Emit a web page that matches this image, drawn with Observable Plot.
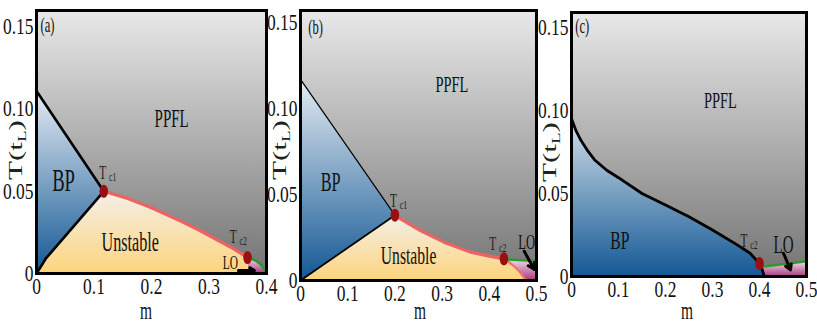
<!DOCTYPE html>
<html><head><meta charset="utf-8">
<script src="https://cdn.jsdelivr.net/npm/d3@7"></script>
<script src="https://cdn.jsdelivr.net/npm/@observablehq/plot@0.6"></script>
<style>
html,body{margin:0;padding:0;background:#fff;}
#wrap{position:relative;width:817px;height:328px;overflow:hidden;background:#fff;}
#wrap svg{position:absolute;top:0;overflow:visible;}
</style></head><body><div id="wrap"></div>
<script>
// ---------------- shared ticks ----------------
const yTicks = [0, 0.05, 0.10, 0.15];
const yTickLabels = ["0", "0.05", "0.10", "0.15"];

// ---------------- panel (a) ----------------
const aXTicks = [0, 0.1, 0.2, 0.3, 0.4];
const aXTickLabels = ["0", "0.1", "0.2", "0.3", "0.4"];
const aBPUpperM = [0, 0.117];
const aBPUpperT = [0.111, 0.050];
const aBPLowerM = [0, 0.016, 0.117];
const aBPLowerT = [0, 0.009, 0.050];
const aRedM = [0.117, 0.16, 0.2, 0.25, 0.285, 0.343, 0.367];
const aRedT = [0.050, 0.0455, 0.040, 0.032, 0.026, 0.015, 0.0097];
const aEdgeM = [0.367, 0.370];
const aEdgeT = [0.0097, 0];
const aGreenM = [0.367, 0.375, 0.383, 0.390, 0.395, 0.4];
const aGreenT = [0.0097, 0.0088, 0.0075, 0.0055, 0.0032, 0];
const aTcNames = ["c1", "c2"];
const aTcM = [0.117, 0.367];
const aTcT = [0.050, 0.0097];
const aTcLabelM = [0.115, 0.342];
const aTcLabelT = [0.061, 0.0225];
const aArrowM = [0.351, 0.379];
const aArrowT = [0.0018, 0.0018];
const aLabels = ["(a)", "PPFL", "BP", "Unstable", "LO"];
const aLabelM = [0.019, 0.235, 0.047, 0.163, 0.337];
const aLabelT = [0.151, 0.094, 0.056, 0.019, 0.0063];

// ---------------- panel (b) ----------------
const bXTicks = [0, 0.1, 0.2, 0.3, 0.4, 0.5];
const bXTickLabels = ["0", "0.1", "0.2", "0.3", "0.4", "0.5"];
const bBPUpperM = [0, 0.2];
const bBPUpperT = [0.117, 0.038];
const bBPLowerM = [0, 0.2];
const bBPLowerT = [0, 0.038];
const bRedM = [0.2, 0.22, 0.254, 0.304, 0.36, 0.4, 0.431];
const bRedT = [0.038, 0.0345, 0.029, 0.0223, 0.0165, 0.0142, 0.0126];
const bEdgeM = [0.431, 0.445, 0.455, 0.466, 0.478];
const bEdgeT = [0.0126, 0.0100, 0.0077, 0.0045, 0];
const bGreenM = [0.431, 0.5];
const bGreenT = [0.0124, 0.0113];
const bCornerM = [0.5];
const bCornerT = [0];
const bTcNames = ["c1", "c2"];
const bTcM = [0.2, 0.431];
const bTcT = [0.038, 0.0126];
const bTcLabelM = [0.197, 0.407];
const bTcLabelT = [0.0465, 0.0215];
const bArrowM = [0.474, 0.495];
const bArrowT = [0.0170, 0.0065];
const bLabels = ["(b)", "PPFL", "BP", "Unstable", "LO"];
const bLabelM = [0.032, 0.321, 0.064, 0.229, 0.479];
const bLabelT = [0.147, 0.114, 0.057, 0.0145, 0.0225];

// ---------------- panel (c) ----------------
const cXTicks = [0, 0.1, 0.2, 0.3, 0.4, 0.5];
const cXTickLabels = ["0", "0.1", "0.2", "0.3", "0.4", "0.5"];
const cBPM = [0, 0.01, 0.02, 0.035, 0.05, 0.075, 0.1, 0.15, 0.2, 0.25, 0.3, 0.35, 0.38, 0.4, 0.406, 0.41];
const cBPT = [0.095, 0.0875, 0.082, 0.0755, 0.070, 0.064, 0.0595, 0.050, 0.043, 0.036, 0.028, 0.0195, 0.014, 0.0078, 0.004, 0];
const cGreenM = [0.405, 0.5];
const cGreenT = [0.0058, 0.0092];
const cCornerM = [0.5, 0.41];
const cCornerT = [0, 0];
const cTcNames = ["c2"];
const cTcM = [0.4];
const cTcT = [0.0078];
const cTcLabelM = [0.367];
const cTcLabelT = [0.0217];
const cArrowM = [0.451, 0.466];
const cArrowT = [0.0140, 0.0040];
const cLabels = ["(c)", "PPFL", "BP", "LO"];
const cLabelM = [0.023, 0.317, 0.103, 0.451];
const cLabelT = [0.151, 0.106, 0.0217, 0.0190];

// ---------------- helpers ----------------
const rev = a => a.slice().reverse();
const FONT = "Liberation Serif, Times New Roman, serif";
const SQ_TICK = 0.76, SQ_TEXT = 0.6;
const GRAY = "#000001", BLUE = "#000002", YELLOW = "#000003", PINK = "#000004";

function poly(m, T, fill) {
  return Plot.line(m, {x: m, y: T, fill, stroke: "none"});
}
function path(m, T, stroke, strokeWidth) {
  return Plot.line(m, {x: m, y: T, stroke, strokeWidth, fill: "none", strokeLinejoin: "round"});
}
function labels(names, m, T, sizes) {
  return names.map((t, i) => Plot.text([t], {x: [m[i]], y: [T[i]], text: d => d, fontSize: sizes[t], fill: "#111"}));
}
function tcLabels(names, m, T) {
  return [
    Plot.text(names, {x: m, y: T, text: () => "T", fontSize: 19, fill: "#222"}),
    Plot.text(names, {x: m, y: T, text: d => d, fontSize: 13, dx: 10, dy: 4, fill: "#222"})
  ];
}

function makePanel(cfg) {
  const svg = Plot.plot({
    width: cfg.width, height: 328,
    marginLeft: cfg.mL, marginRight: cfg.mR, marginTop: cfg.mT, marginBottom: cfg.mB,
    style: {fontFamily: FONT, fontSize: "23px", background: "transparent", color: "#111"},
    x: {domain: [0, cfg.xMax], ticks: cfg.xTicks, tickFormat: d => cfg.xTickLabels[cfg.xTicks.indexOf(d)], tickSize: 0, tickPadding: 4, label: null},
    y: {domain: [0, cfg.yMax], ticks: yTicks, tickFormat: d => yTickLabels[yTicks.indexOf(d)], tickSize: 0, tickPadding: 3, label: null},
    marks: [
      Plot.frame({fill: GRAY}),
      ...cfg.marks,
      Plot.frame({stroke: "#000", strokeWidth: 3})
    ]
  });
  const s = d3.select(svg);
  const defs = s.insert("defs", ":first-child");
  const grad = (id, stops) => {
    const g = defs.append("linearGradient").attr("id", id).attr("x1", 0).attr("y1", 0).attr("x2", 0).attr("y2", 1);
    stops.forEach(([o, c]) => g.append("stop").attr("offset", o).attr("stop-color", c));
  };
  const id = cfg.id;
  grad("gray" + id, [[0, "#e8e8e8"], [1, "#747474"]]);
  grad("blue" + id, [[0, cfg.blueTop], [1, "#135894"]]);
  grad("yel" + id, [[0, "#f4efe8"], [1, "#fdd47c"]]);
  grad("pink" + id, [[0, "#f4dfeb"], [1, "#a3377c"]]);
  const map = {[GRAY]: "gray", [BLUE]: "blue", [YELLOW]: "yel", [PINK]: "pink"};
  Object.entries(map).forEach(([k, v]) => {
    svg.querySelectorAll(`[fill="${k}"]`).forEach(el => el.setAttribute("fill", `url(#${v}${id})`));
  });
  // horizontal squish of all texts (reference typography is condensed)
  svg.querySelectorAll("text").forEach(t => {
    const isTick = /^[0-9.]+$/.test(t.textContent.trim());
    const sq = isTick ? SQ_TICK : SQ_TEXT;
    if (isTick) { t.setAttribute("font-size", 23); t.style.fontSize = "23px"; }
    const x = +(t.getAttribute("x") || 0);
    const tr = t.getAttribute("transform") || "";
    t.setAttribute("transform", `${tr} translate(${x},0) scale(${sq},1) translate(${-x},0)`);
  });
  // condensed (elliptic) dots, as in the reference
  svg.querySelectorAll("circle").forEach(c => {
    const cx = +(c.getAttribute("cx") || 0);
    const tr = c.getAttribute("transform") || "";
    c.setAttribute("transform", `${tr} translate(${cx},0) scale(0.66,1) translate(${-cx},0)`);
  });
  // axis titles
  s.append("text").attr("transform", `translate(${cfg.xLabelX},319) scale(0.62,1)`)
    .attr("text-anchor", "middle").attr("font-size", 25).attr("font-family", FONT).attr("fill", "#111").text("m");
  const yl = s.append("text").attr("transform", `translate(${cfg.yLabelX},${cfg.yLabelY}) scale(0.62,1) rotate(-90)`)
    .attr("text-anchor", "middle").attr("font-size", 31).attr("font-family", FONT).attr("fill", "#222");
  yl.append("tspan").text("T(t");
  yl.append("tspan").attr("font-size", 19).attr("dy", 6).text("L");
  yl.append("tspan").attr("dy", -6).text(")");
  svg.style.left = cfg.left + "px";
  return svg;
}

const wrap = document.getElementById("wrap");

// panel (a)
wrap.appendChild(makePanel({
  id: "a", left: 0, width: 270, mL: 36, mR: 4, mT: 10, mB: 55, xMax: 0.4, yMax: 0.16,
  xTicks: aXTicks, xTickLabels: aXTickLabels, xLabelX: 146, yLabelX: 22, yLabelY: 150, blueTop: "#e4ebf2",
  marks: [
    poly(aBPLowerM.concat(rev(aBPUpperM)), aBPLowerT.concat(rev(aBPUpperT)), BLUE),
    poly(aBPLowerM.concat(aRedM, aEdgeM), aBPLowerT.concat(aRedT, aEdgeT), YELLOW),
    poly(aGreenM.concat(rev(aEdgeM)), aGreenT.concat(rev(aEdgeT)), PINK),
    path(aBPUpperM, aBPUpperT, "#000", 2.6),
    path(aBPLowerM, aBPLowerT, "#000", 2.6),
    path(aRedM, aRedT, "#f06262", 3.2),
    path(aGreenM, aGreenT, "#2a9a2a", 2.5),
    Plot.dot(aTcNames, {x: aTcM, y: aTcT, r: 6.5, fill: "#9a0f0f", stroke: "none"}),
    ...tcLabels(aTcNames, aTcLabelM, aTcLabelT),
    ...labels(aLabels, aLabelM, aLabelT, {"(a)": 21, "PPFL": 25, "BP": 31, "Unstable": 27, "LO": 19}),
    Plot.arrow([0], {x1: [aArrowM[0]], y1: [aArrowT[0]], x2: [aArrowM[1]], y2: [aArrowT[1]], stroke: "#000", strokeWidth: 3, headLength: 9})
  ]
}));

// panel (b)
wrap.appendChild(makePanel({
  id: "b", left: 270, width: 270, mL: 30, mR: 4, mT: 10, mB: 48, xMax: 0.5, yMax: 0.157,
  xTicks: bXTicks, xTickLabels: bXTickLabels, xLabelX: 150, yLabelX: 16, yLabelY: 150, blueTop: "#e4ebf2",
  marks: [
    poly(bBPLowerM.concat(rev(bBPUpperM)), bBPLowerT.concat(rev(bBPUpperT)), BLUE),
    poly(bBPLowerM.concat(bRedM, bEdgeM), bBPLowerT.concat(bRedT, bEdgeT), YELLOW),
    poly(bGreenM.concat(bCornerM, rev(bEdgeM)), bGreenT.concat(bCornerT, rev(bEdgeT)), PINK),
    path(bBPUpperM, bBPUpperT, "#000", 1.2),
    path(bBPLowerM, bBPLowerT, "#000", 1.8),
    path(bRedM, bRedT, "#f06262", 3.2),
    path(bEdgeM, bEdgeT, "#f07070", 2.2),
    path(bGreenM, bGreenT, "#2a9a2a", 2.5),
    Plot.dot(bTcNames, {x: bTcM, y: bTcT, r: 6.5, fill: "#9a0f0f", stroke: "none"}),
    ...tcLabels(bTcNames, bTcLabelM, bTcLabelT),
    ...labels(bLabels, bLabelM, bLabelT, {"(b)": 21, "PPFL": 24, "BP": 27, "Unstable": 26, "LO": 21}),
    Plot.arrow([0], {x1: [bArrowM[0]], y1: [bArrowT[0]], x2: [bArrowM[1]], y2: [bArrowT[1]], stroke: "#000", strokeWidth: 3, headLength: 10})
  ]
}));

// panel (c)
wrap.appendChild(makePanel({
  id: "c", left: 540, width: 277, mL: 31, mR: 11, mT: 12, mB: 52, xMax: 0.5, yMax: 0.159,
  xTicks: cXTicks, xTickLabels: cXTickLabels, xLabelX: 147, yLabelX: 16, yLabelY: 152, blueTop: "#d3dfea",
  marks: [
    poly(cBPM.concat([0]), cBPT.concat([0]), BLUE),
    poly(cGreenM.concat(cCornerM), cGreenT.concat(cCornerT), PINK),
    path(cBPM, cBPT, "#000", 2.8),
    path(cGreenM, cGreenT, "#2a9a2a", 2.5),
    Plot.dot(cTcNames, {x: cTcM, y: cTcT, r: 6.5, fill: "#9a0f0f", stroke: "none"}),
    ...tcLabels(cTcNames, cTcLabelM, cTcLabelT),
    ...labels(cLabels, cLabelM, cLabelT, {"(c)": 21, "PPFL": 24, "BP": 26, "LO": 25}),
    Plot.arrow([0], {x1: [cArrowM[0]], y1: [cArrowT[0]], x2: [cArrowM[1]], y2: [cArrowT[1]], stroke: "#000", strokeWidth: 3, headLength: 10})
  ]
}));
</script></body></html>
